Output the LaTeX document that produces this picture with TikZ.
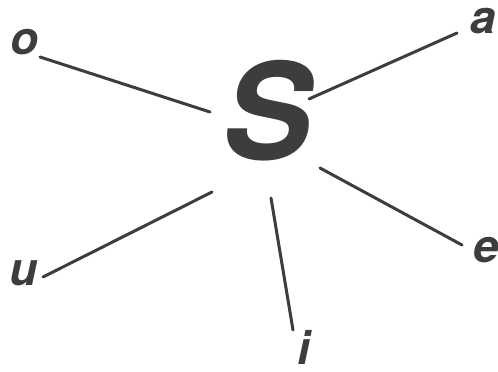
\documentclass[tikz,border=0pt]{standalone}
\usepackage{fontspec}
\setmainfont{TeX Gyre Heros}
\definecolor{ink}{HTML}{3D3D3D}
\tikzset{
  vowel/.style={anchor=base, inner sep=0pt, text=ink, text height=26pt, text depth=0pt, font=\fontsize{46}{46}\selectfont\bfseries\itshape},
  bigs/.style={anchor=base, inner sep=0pt, text=ink, font=\fontsize{134}{134}\selectfont\bfseries\itshape},
  spoke/.style={draw=ink, line width=3pt, line cap=round}
}
\begin{document}
\begin{tikzpicture}[x=1pt,y=-1pt]
\useasboundingbox (0,0) rectangle (498,372);
\node[bigs] (S) at (267,159) {S};
\node[vowel] (o) at (25,54) {o};
\node[vowel] (a) at (483,33) {a};
\node[vowel] (e) at (486,262) {e};
\node[vowel] (u) at (24,285) {u};
\node[vowel] (i) at (304,364) {i};
\coordinate (o1) at (40,57);
\coordinate (o2) at (210,112);
\coordinate (a1) at (309,99);
\coordinate (a2) at (457,33);
\coordinate (e1) at (320,168);
\coordinate (e2) at (462,245);
\coordinate (u1) at (43,277);
\coordinate (u2) at (212,192);
\coordinate (i1) at (271,198);
\coordinate (i2) at (293,330);
\draw[spoke] (o1) -- (o2);
\draw[spoke] (a1) -- (a2);
\draw[spoke] (e1) -- (e2);
\draw[spoke] (u1) -- (u2);
\draw[spoke] (i1) -- (i2);
\end{tikzpicture}
\end{document}
